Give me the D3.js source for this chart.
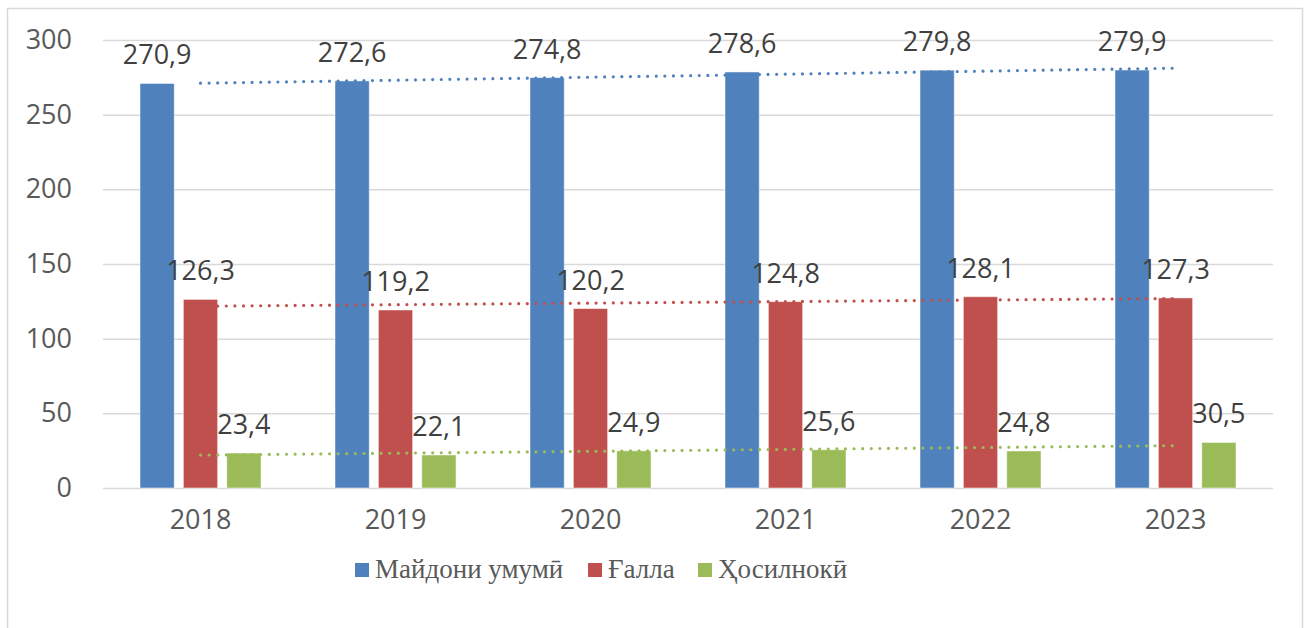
<!DOCTYPE html>
<html>
<head>
<meta charset="utf-8">
<script src="https://cdn.jsdelivr.net/npm/d3@7"></script>
<style>
  body { margin: 0; background: #fff; }
  svg { display: block; }
</style>
</head>
<body>
<svg width="1309" height="628"></svg>
<script>
// data
var years = ["2018", "2019", "2020", "2021", "2022", "2023"];
var seriesNames = ["Майдони умумӣ", "Ғалла", "Ҳосилнокӣ"];
var area = [270.9, 272.6, 274.8, 278.6, 279.8, 279.9];
var grain = [126.3, 119.2, 120.2, 124.8, 128.1, 127.3];
var yieldv = [23.4, 22.1, 24.9, 25.6, 24.8, 30.5];
var yTicks = [0, 50, 100, 150, 200, 250, 300];

var colors = ["#4F81BD", "#C0504D", "#9BBB59"];
var series = [area, grain, yieldv];

var svg = d3.select("svg"),
    width = +svg.attr("width"),
    height = +svg.attr("height");

// outer border
svg.append("rect")
    .attr("x", 7.5).attr("y", 8.5)
    .attr("width", 1295).attr("height", 640)
    .attr("fill", "none")
    .attr("stroke", "#D9D9D9")
    .attr("stroke-width", 1.5);

var x0 = d3.scaleBand()
    .domain(years)
    .range([103, 1273]);

var x1 = d3.scaleBand()
    .domain(d3.range(3))
    .range([x0.bandwidth() / 2 - 60.5, x0.bandwidth() / 2 + 60.5])
    .paddingInner(0.21);

var y = d3.scaleLinear()
    .domain([0, 300])
    .range([488, 40]);

// gridlines + y labels
var yAxis = svg.append("g")
    .attr("transform", "translate(103,0)")
    .call(d3.axisLeft(y).tickValues(yTicks).tickSize(-1170).tickPadding(31));
yAxis.select(".domain").remove();
yAxis.selectAll(".tick line").attr("stroke", "#D9D9D9").attr("stroke-width", 1.5);
yAxis.selectAll(".tick text")
    .attr("fill", "#595959")
    .style("font-family", "'Open Sans', sans-serif")
    .style("font-size", "27px");

// x labels
var xAxis = svg.append("g")
    .attr("transform", "translate(0,488)")
    .call(d3.axisBottom(x0).tickSize(0).tickPadding(22));
xAxis.select(".domain").remove();
xAxis.selectAll(".tick text")
    .attr("fill", "#595959")
    .style("font-family", "'Open Sans', sans-serif")
    .style("font-size", "27px");

// bars
var groups = svg.append("g").selectAll("g")
    .data(years)
    .enter().append("g")
    .attr("transform", function(d) { return "translate(" + x0(d) + ",0)"; });

groups.selectAll("rect")
    .data(function(d, i) { return series.map(function(s, k) { return {k: k, v: s[i]}; }); })
    .enter().append("rect")
    .attr("x", function(d) { return x1(d.k); })
    .attr("width", x1.bandwidth())
    .attr("y", function(d) { return y(d.v); })
    .attr("height", function(d) { return y(0) - y(d.v); })
    .attr("fill", function(d) { return colors[d.k]; })
    .attr("stroke", "rgba(255,255,255,0.5)")
    .attr("stroke-width", 1);

// linear trendlines
function fit(vals) {
    var xs = vals.map(function(v, i) { return i + 1; });
    var mx = d3.mean(xs), my = d3.mean(vals);
    var num = d3.sum(xs, function(xv, i) { return (xv - mx) * (vals[i] - my); });
    var den = d3.sum(xs, function(xv) { return (xv - mx) * (xv - mx); });
    var b = num / den, a = my - b * mx;
    return [[1, a + b], [vals.length, a + b * vals.length]];
}

var cx = function(i) { return x0(years[i - 1]) + x0.bandwidth() / 2; };
var line = d3.line()
    .x(function(d) { return cx(d[0]); })
    .y(function(d) { return y(d[1]); });

series.forEach(function(s, k) {
    svg.append("path")
        .attr("d", line(fit(s)))
        .attr("fill", "none")
        .attr("stroke", colors[k])
        .attr("stroke-width", 3.2)
        .attr("stroke-linecap", "round")
        .attr("stroke-dasharray", "0,8.6");
});

// value labels
groups.selectAll("text.val")
    .data(function(d, i) { return series.map(function(s, k) { return {k: k, v: s[i]}; }); })
    .enter().append("text")
    .attr("class", "val")
    .attr("x", function(d) { return x1(d.k) + x1.bandwidth() / 2; })
    .attr("y", function(d) { return y(d.v) - 19; })
    .attr("text-anchor", "middle")
    .attr("fill", "#404040")
    .style("font-family", "'Open Sans', sans-serif")
    .style("font-size", "27px")
    .text(function(d) { return d.v.toFixed(1).replace(".", ","); });

// legend
var legendX = [355, 588, 698];
var legend = svg.append("g").selectAll("g")
    .data(seriesNames)
    .enter().append("g")
    .attr("transform", function(d, i) { return "translate(" + legendX[i] + ",0)"; });

legend.append("rect")
    .attr("x", 0).attr("y", 563)
    .attr("width", 14).attr("height", 14)
    .attr("fill", function(d, i) { return colors[i]; });

legend.append("text")
    .attr("x", 20).attr("y", 578)
    .attr("fill", "#595959")
    .style("font-family", "'Liberation Serif', 'Times New Roman', serif")
    .style("font-size", "27px")
    .text(function(d) { return d; });
</script>
</body>
</html>
